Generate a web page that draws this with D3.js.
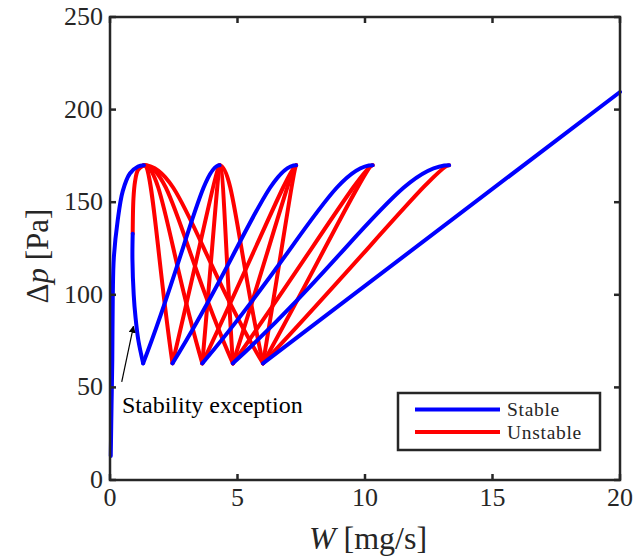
<!DOCTYPE html>
<html><head><meta charset="utf-8">
<script src="https://cdn.jsdelivr.net/npm/d3@7"></script>
<style>body{margin:0;background:#fff}</style>
</head><body><svg id="c" width="643" height="558"></svg>
<script>
// ---- data ----
const xTicks = [0, 5, 10, 15, 20];
const yTicks = [0, 50, 100, 150, 200, 250];
const seriesNames = ["Stable", "Unstable"];
const peaksW = [1.33, 4.3, 7.3, 10.3, 13.3];
const peakDp = 170;
const minsW = [1.3, 2.45, 3.62, 4.82, 6.0];
const minDp = 63;
const stableRise = [[0.03,13],[0.06,40],[0.09,65],[0.11,100],[0.15,120],[0.3,140],[0.5,156],[0.78,165.5],[1.1,169.3],[1.33,170]];
const lobeUnstable = [[1.33,170],[1.1,167.5],[0.98,161],[0.92,152],[0.89,133]];
const lobeStable = [[0.89,133],[0.88,119],[0.93,100],[1.0,88],[1.11,75.6],[1.3,63]];
const lastStable = [[6.0,63],[20,209.5]];
// stable rising branches: min i -> peak i+1
const stablePairs = [[0,1],[1,2],[2,3],[3,4]];
// unstable falling branches: peak j -> min i
const unstablePairs = [[0,1],[0,2],[0,3],[0,4],[1,1],[1,2],[1,3],[1,4],[2,2],[2,3],[2,4],[3,3],[3,4],[4,4]];
const annotation = "Stability exception";

// ---- drawing ----
const svg = d3.select("#c");
const L = 110, R = 620, T = 17, B = 480;
const x = d3.scaleLinear().domain([0, 20]).range([L, R]);
const y = d3.scaleLinear().domain([0, 250]).range([B, T]);
const line = d3.line().x(d => x(d[0])).y(d => y(d[1])).curve(d3.curveCatmullRom);
const blue = "#0000ff", red = "#ff0000";
const lw = 4;
const g = svg.append("g");
function stroke(sel, col) {
  return sel.attr("fill", "none").attr("stroke", col).attr("stroke-width", lw)
    .attr("stroke-linejoin", "round").attr("stroke-linecap", "round");
}
function path(pts, col) { stroke(g.append("path").attr("d", line(pts)), col); }
// branch between a peak and a minimum, rounded near the peak
function branch(wp, wm, col, k) {
  const px = x(wp), py = y(peakDp), mx = x(wm), my = y(minDp);
  const d = (mx - px) * k;
  const p = d3.path();
  p.moveTo(px, py);
  p.bezierCurveTo(px + d, py, px + (mx - px) * 0.45, py + (my - py) * 0.45, mx, my);
  stroke(g.append("path").attr("d", p.toString()), col);
}
unstablePairs.forEach(([j, i]) => {
  const right = minsW[i] > peaksW[j];
  branch(peaksW[j], minsW[i], red, right ? 0.3 : 0.06);
});
path(lobeUnstable, red);
path(stableRise, blue);
path(lobeStable, blue);
stablePairs.forEach(([i, j]) => branch(peaksW[j], minsW[i], blue, 0.22));
path(lastStable, blue);

// axes box
const axc = "#262626";
svg.append("rect").attr("x", L).attr("y", T).attr("width", R - L).attr("height", B - T)
  .attr("fill", "none").attr("stroke", axc).attr("stroke-width", 2.5);
const tl = 6;
xTicks.forEach(t => {
  svg.append("line").attr("x1", x(t)).attr("x2", x(t)).attr("y1", B).attr("y2", B - tl).attr("stroke", axc).attr("stroke-width", 2.5);
  svg.append("line").attr("x1", x(t)).attr("x2", x(t)).attr("y1", T).attr("y2", T + tl).attr("stroke", axc).attr("stroke-width", 2.5);
  svg.append("text").attr("x", x(t)).attr("y", B + 26).attr("text-anchor", "middle")
    .attr("font-family", "Liberation Serif").attr("font-size", 26).attr("fill", axc).text(t);
});
yTicks.forEach(t => {
  svg.append("line").attr("x1", L).attr("x2", L + tl).attr("y1", y(t)).attr("y2", y(t)).attr("stroke", axc).attr("stroke-width", 2.5);
  svg.append("line").attr("x1", R).attr("x2", R - tl).attr("y1", y(t)).attr("y2", y(t)).attr("stroke", axc).attr("stroke-width", 2.5);
  svg.append("text").attr("x", L - 7).attr("y", y(t) + 8).attr("text-anchor", "end")
    .attr("font-family", "Liberation Serif").attr("font-size", 26).attr("fill", axc).text(t);
});
// axis titles
const xt = svg.append("text").attr("x", 368).attr("y", 549).attr("text-anchor", "middle")
  .attr("font-family", "Liberation Serif").attr("font-size", 32).attr("fill", axc);
xt.append("tspan").attr("font-style", "italic").text("W");
xt.append("tspan").text(" [mg/s]");
const yt = svg.append("text").attr("transform", "translate(48,256) rotate(-90)").attr("text-anchor", "middle")
  .attr("font-family", "Liberation Serif").attr("font-size", 31).attr("fill", axc);
yt.append("tspan").text("Δ");
yt.append("tspan").attr("font-style", "italic").text("p");
yt.append("tspan").text(" [Pa]");

// annotation
svg.append("defs").append("marker").attr("id", "ah").attr("viewBox", "0 0 10 10")
  .attr("refX", 9).attr("refY", 5).attr("markerWidth", 6).attr("markerHeight", 6).attr("orient", "auto")
  .append("path").attr("d", "M0,0 L10,5 L0,10 z").attr("fill", "#000");
svg.append("line").attr("x1", x(0.46)).attr("y1", y(53)).attr("x2", x(0.92)).attr("y2", y(83))
  .attr("stroke", "#000").attr("stroke-width", 1.2).attr("marker-end", "url(#ah)");
svg.append("text").attr("x", 122).attr("y", 413).attr("font-family", "Liberation Serif")
  .attr("font-size", 24).attr("fill", "#000").text(annotation);

// legend
const lg = svg.append("g");
lg.append("rect").attr("x", 398).attr("y", 393).attr("width", 202).attr("height", 57)
  .attr("fill", "#fff").attr("stroke", axc).attr("stroke-width", 2.5);
[blue, red].forEach((c, k) => {
  const yy = 409.5 + k * 22.5;
  lg.append("line").attr("x1", 415).attr("x2", 500).attr("y1", yy).attr("y2", yy)
    .attr("stroke", c).attr("stroke-width", lw);
  lg.append("text").attr("x", 507).attr("y", yy + 6.5).attr("font-family", "Liberation Serif")
    .attr("font-size", 19.5).attr("letter-spacing", 0.7).attr("fill", axc).text(seriesNames[k]);
});
</script></body></html>
